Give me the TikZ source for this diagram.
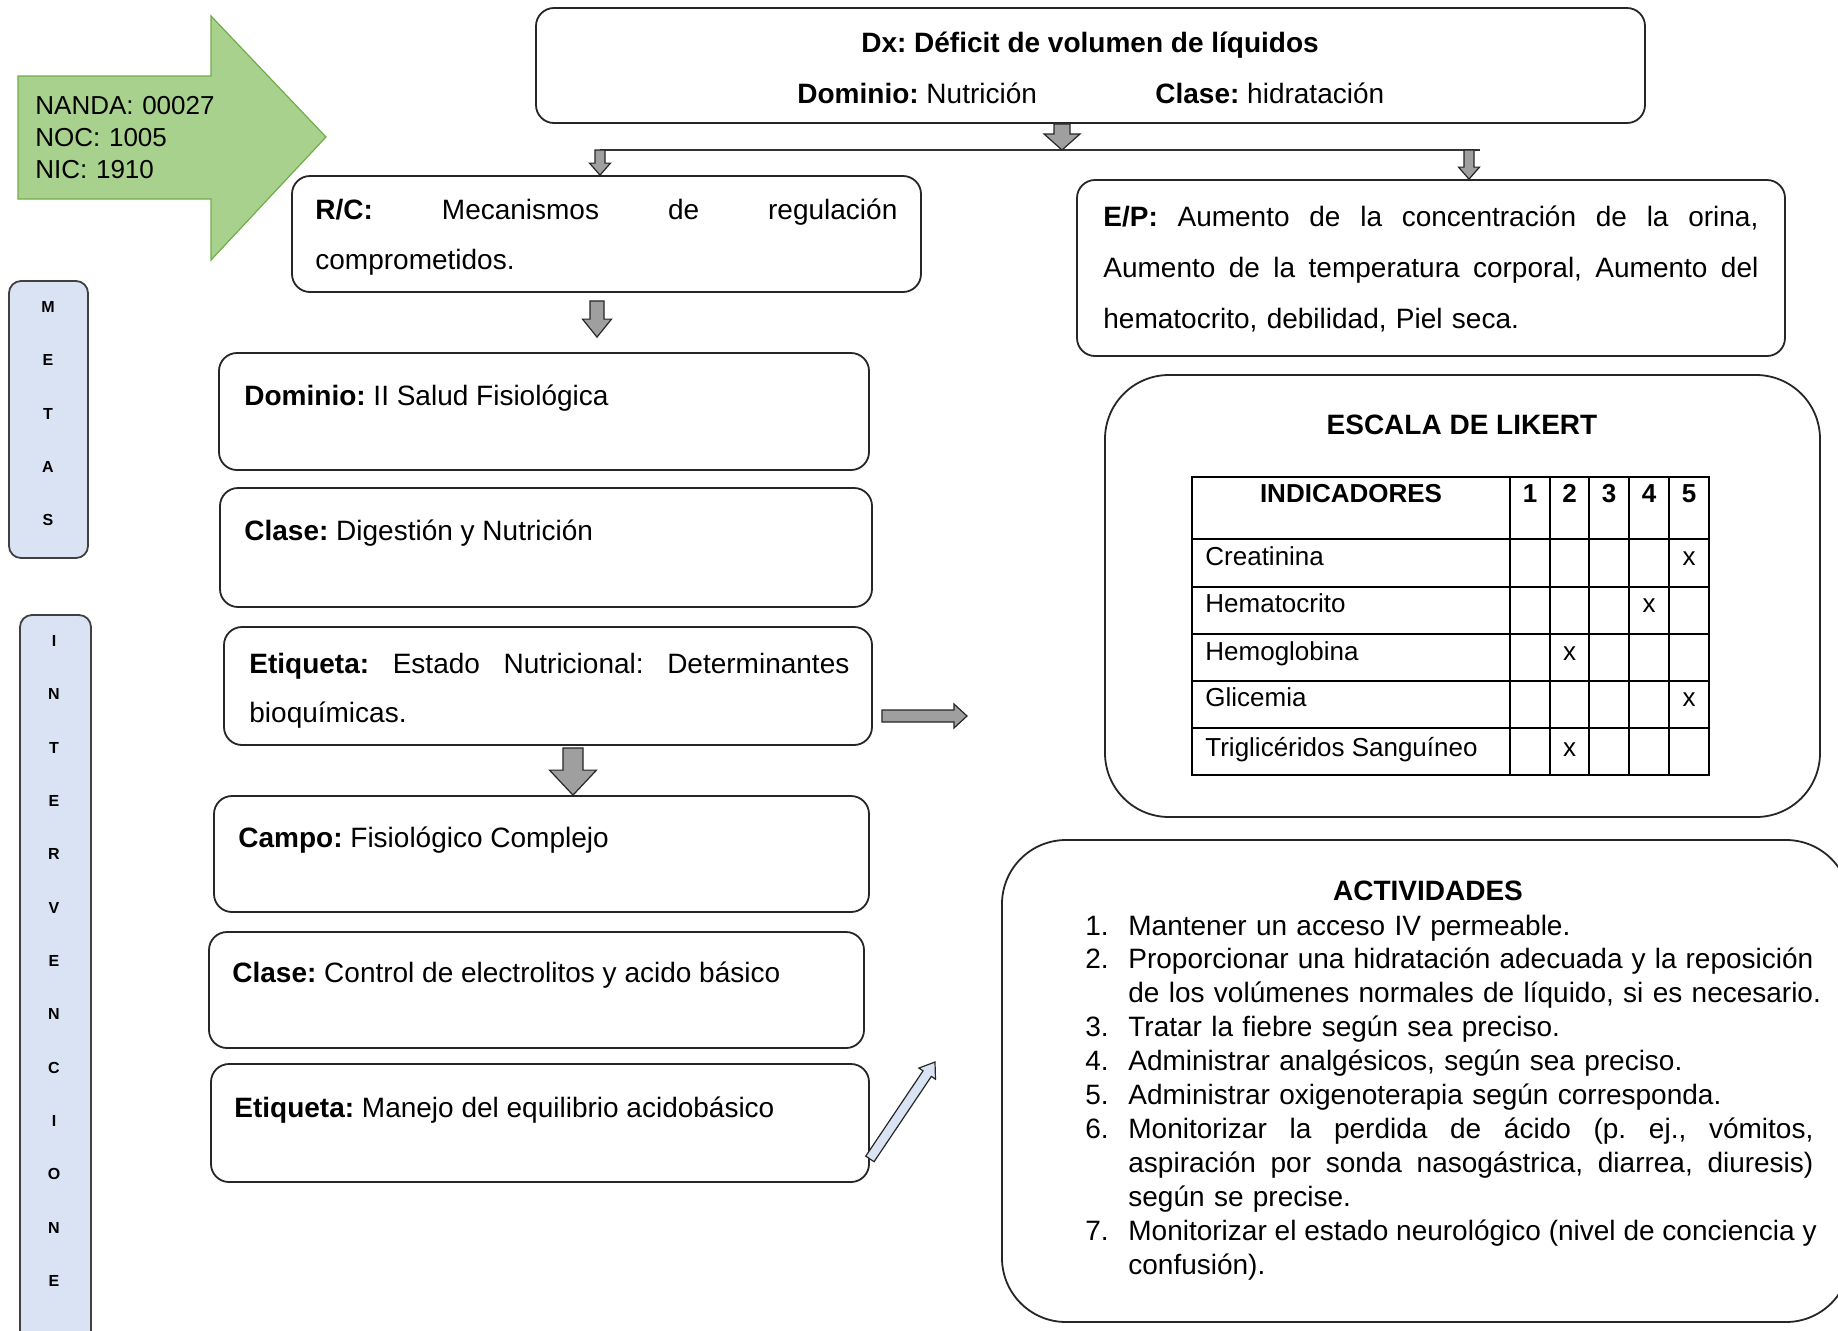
\documentclass[tikz,border=0pt]{standalone}
\usepackage{fontspec}
\setmainfont{Liberation Sans}
\usetikzlibrary{calc}
\frenchspacing
\definecolor{verdeflecha}{RGB}{169,209,142}
\definecolor{verdeborde}{RGB}{112,173,71}
\definecolor{azulmeta}{RGB}{218,227,243}
\newcommand{\numact}[1]{\makebox[21.5pt][l]{#1}}
\newcommand{\linjust}[2]{\leavevmode\hbox to #1{\spaceskip=0.28em plus 1fil\relax #2}}
\newcommand{\sangria}{\hspace*{21.5pt}}
\newcommand{\flechabloque}[6][]{%
 \coordinate (fb-s) at #2;
 \coordinate (fb-e) at #3;
 \coordinate (fb-h) at ($(fb-e)!#6!(fb-s)$);
 \draw[flecha,#1] ($(fb-s)!#4!90:(fb-e)$) -- ($(fb-h)!#4!-90:(fb-s)$) -- ($(fb-h)!#5!-90:(fb-s)$) -- (fb-e)
  -- ($(fb-h)!#5!90:(fb-s)$) -- ($(fb-h)!#4!90:(fb-s)$) -- ($(fb-s)!#4!-90:(fb-e)$) -- cycle;}
\begin{document}
\begin{tikzpicture}[x=0.5pt,y=-0.5pt,
 every node/.style={inner sep=0pt,font=\fontsize{14}{25}\selectfont},
 caja/.style={draw=black!85,line width=0.9pt,rounded corners=9pt,fill=white},
 grande/.style={draw=black!85,line width=0.9pt,rounded corners=32pt},
 meta/.style={draw=black!75,line width=0.9pt,rounded corners=6pt,fill=azulmeta},
 letra/.style={font=\fontsize{8}{8}\selectfont\bfseries},
 texto/.style={anchor=base west},
 celda/.style={font=\fontsize{13}{13}\selectfont},
 tabla/.style={line width=0.9pt},
 flecha/.style={draw=black!85,line width=0.6pt,fill=gray!75},
 verde/.style={draw=verdeborde,line width=0.6pt,fill=verdeflecha}]
 \useasboundingbox[fill=white] (0,0) rectangle (1838,1330);
 \draw[verde] (18,76) -- (211,76) -- (211,16) -- (326,137) -- (211,260) -- (211,199) -- (18,199) -- cycle;
 \node[texto,text width=100pt,font=\fontsize{13}{16}\selectfont] (nanda) at (35,114) {NANDA: 00027\\NOC: 1005\\NIC: 1910};
 \node[meta,minimum width=79*0.5pt,minimum height=277*0.5pt] (metas) at (48.5,419.5) {};
 \node[meta,minimum width=71*0.5pt,minimum height=745*0.5pt] (interv) at (55.5,987.5) {};
 \foreach \l [count=\i] in {M,E,T,A,S}
  \node[letra] (meta\i) at (48,307+53.25*\i-53.25) {\l};
 \foreach \l [count=\i] in {I,N,T,E,R,V,E,N,C,I,O,N,E}
  \node[letra] (int\i) at (54,641+53.33*\i-53.33) {\l};
 \node[caja,minimum width=1109*0.5pt,minimum height=115*0.5pt] (dx) at (1090.5,65.5) {};
 \node[anchor=base,font=\fontsize{14}{25}\selectfont\bfseries] (dxtit) at (1090,52) {Dx: Déficit de volumen de líquidos};
 \node[texto] (dxdom) at (797,103) {\textbf{Dominio:} Nutrición};
 \node[texto] (dxcla) at (1155,103) {\textbf{Clase:} hidratación};
 \node[caja,minimum width=629*0.5pt,minimum height=116*0.5pt] (rc) at (606.5,234) {};
 \node[texto,text width=300pt] (rctxt) at (315,219) {\linjust{291pt}{\textbf{R/C:} Mecanismos de regulación}\\comprometidos.};
 \node[caja,minimum width=708*0.5pt,minimum height=176*0.5pt] (ep) at (1431,268) {};
 \node[texto,text width=340pt,font=\fontsize{14}{25.5}\selectfont] (eptxt) at (1103,226) {\linjust{327.5pt}{\textbf{E/P:} Aumento de la concentración de la orina,}\\
  \linjust{327.5pt}{Aumento de la temperatura corporal, Aumento del}\\hematocrito, debilidad, Piel seca.};
 \node[caja,minimum width=650*0.5pt,minimum height=117*0.5pt] (dominio) at (544,411.5) {};
 \node[texto] (domtxt) at (244,405) {\textbf{Dominio:} II Salud Fisiológica};
 \node[caja,minimum width=652*0.5pt,minimum height=119*0.5pt] (clase) at (546,547.5) {};
 \node[texto] (clatxt) at (244,540) {\textbf{Clase:} Digestión y Nutrición};
 \node[caja,minimum width=648*0.5pt,minimum height=118*0.5pt] (etq) at (548,686) {};
 \node[texto,text width=310pt,font=\fontsize{14}{24.5}\selectfont] (etqtxt) at (249,673) {\linjust{300pt}{\textbf{Etiqueta:} Estado Nutricional: Determinantes}\\bioquímicas.};
 \node[caja,minimum width=655*0.5pt,minimum height=116*0.5pt] (campo) at (541.5,854) {};
 \node[texto] (camtxt) at (238,847) {\textbf{Campo:} Fisiológico Complejo};
 \node[caja,minimum width=655*0.5pt,minimum height=116*0.5pt] (clase2) at (536.5,990) {};
 \node[texto] (cl2txt) at (232,982) {\textbf{Clase:} Control de electrolitos y acido básico};
 \node[caja,minimum width=658*0.5pt,minimum height=118*0.5pt] (etq2) at (540,1123) {};
 \node[texto] (etq2txt) at (234,1117) {\textbf{Etiqueta:} Manejo del equilibrio acidobásico};
 \node[grande,minimum width=715*0.5pt,minimum height=442*0.5pt] (likert) at (1462.5,596) {};
 \node[anchor=base,font=\fontsize{14}{25}\selectfont\bfseries] (liktit) at (1462,434) {ESCALA DE LIKERT};
 \draw[tabla] (1192,477) rectangle (1709,775);
 \foreach \x in {1510,1550,1589,1629,1669} \draw[tabla] (\x,477) -- (\x,775);
 \foreach \y in {539,587,634,681,728} \draw[tabla] (1192,\y) -- (1709,\y);
 \node[celda,anchor=base,font=\fontsize{13}{13}\selectfont\bfseries] (indic) at (1351,502) {INDICADORES};
 \foreach \n/\x in {1/1530,2/1569.5,3/1609,4/1649,5/1689}
  \node[celda,anchor=base,font=\fontsize{13}{13}\selectfont\bfseries] (col\n) at (\x,502) {\n};
 \foreach \nom/\y/\c [count=\i] in {Creatinina/556/1689,Hematocrito/603/1649,Hemoglobina/651/1569.5,Glicemia/697/1689,Triglicéridos Sanguíneo/747/1569.5}{
  \node[celda,texto] (ind\i) at (1205,\y+9) {\nom};
  \node[celda,anchor=base] (marca\i) at (\c,\y+9) {x};}
 \node[grande,minimum width=848*0.5pt,minimum height=482*0.5pt] (activ) at (1426,1081) {};
 \node[anchor=base,font=\fontsize{14}{25}\selectfont\bfseries] (acttit) at (1428,900) {ACTIVIDADES};
 \node[texto,text width=370pt,font=\fontsize{14}{16.95}\selectfont] (actlist) at (1085,935) {%
  \numact{1.}Mantener un acceso IV permeable.\\
  \numact{2.}\linjust{342.5pt}{Proporcionar una hidratación adecuada y la reposición}\\
  \sangria de los volúmenes normales de líquido, si es necesario.\\
  \numact{3.}Tratar la fiebre según sea preciso.\\
  \numact{4.}Administrar analgésicos, según sea preciso.\\
  \numact{5.}Administrar oxigenoterapia según corresponda.\\
  \numact{6.}\linjust{342.5pt}{Monitorizar la perdida de ácido (p. ej., vómitos,}\\
  \sangria\linjust{342.5pt}{aspiración por sonda nasogástrica, diarrea, diuresis)}\\
  \sangria según se precise.\\
  \numact{7.}\linjust{342.5pt}{Monitorizar el estado neurológico (nivel de conciencia y}\\
  \sangria confusión).};
 \coordinate (divc) at (1062,150);
 \coordinate (divi) at (600,150);
 \coordinate (divr) at (1469,150);
 \coordinate (divd) at (1480,150);
 \coordinate (hacialik) at (967,716);
 \coordinate (haciaact) at (935,1062);
 \draw[line width=1.2pt,black!80] (divi) -- (divd);
 \flechabloque{(dx.south-|divc)}{(divc)}{4pt}{9pt}{8pt}
 \flechabloque{(divi)}{(divi|-rc.north)}{2.5pt}{5.25pt}{6pt}
 \flechabloque{(divr)}{(divr|-ep.north)}{2.5pt}{5.25pt}{6pt}
 \flechabloque{($(rc.south)+(-9.5,8)$)}{($(dominio.north)+(53,-15)$)}{3.5pt}{7.25pt}{9pt}
 \flechabloque{($(etq.east)+(9,30)$)}{(hacialik)}{3pt}{6pt}{6.5pt}
 \flechabloque{($(etq.south)+(25,2)$)}{($(campo.north)+(31.5,0)$)}{5pt}{11.75pt}{12.5pt}
 \flechabloque[fill=azulmeta]{($(etq2.south east)+(0,-24)$)}{(haciaact)}{2.5pt}{5pt}{7pt}
\end{tikzpicture}
\end{document}
